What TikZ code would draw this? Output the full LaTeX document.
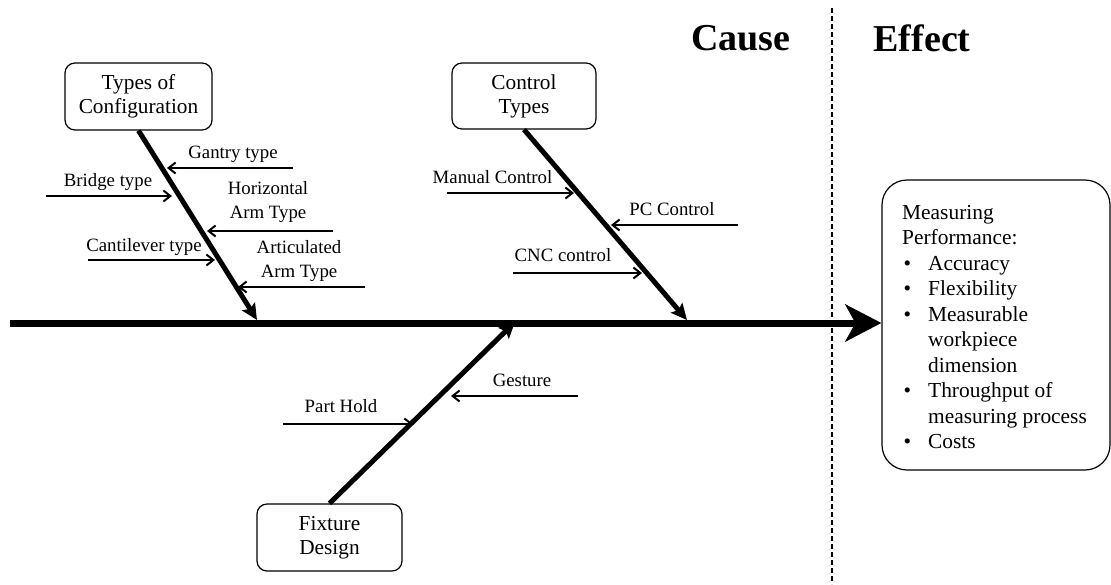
\documentclass[tikz,border=0pt]{standalone}
\usepackage{fontspec}
\setmainfont{Liberation Serif}
\usetikzlibrary{arrows.meta}
\newcommand\bitem{\makebox[26pt][l]{\hspace{1.5pt}\textbullet}}
\begin{document}
\begin{tikzpicture}[x=1pt,y=-1pt,
  every node/.style={font=\fontsize{18.8}{24}\selectfont},
  lbl/.style={inner sep=0pt, align=center},
  causebox/.style={draw, line width=1.2pt, rounded corners=10pt, align=center, inner sep=0pt,
    font=\fontsize{21.3}{24}\selectfont},
  bone/.style={line width=5pt, -{Stealth[length=16pt,width=15pt,inset=3pt]}},
  twig/.style={line width=2pt, -{Straight Barb[length=7pt,width=11pt]}},
  spine/.style={line width=7pt, -{Stealth[length=36pt,width=37pt,inset=10pt]}},
  divider/.style={line width=2.5pt, dash pattern=on 5pt off 3pt},
  title/.style={font=\fontsize{38}{40}\selectfont\bfseries, inner sep=0pt}
]
\useasboundingbox (0,0) rectangle (1111,584);

% headings and divider
\node[title] (cause) at (741,38) {Cause};
\node[title] (effect) at (922,38) {Effect};
\coordinate (dtop) at (832,8);
\coordinate (dbot) at (832,584);
\draw[divider] (dtop) -- (dbot);

% effect box
\node[draw, line width=1.2pt, rounded corners=25pt, minimum width=228pt, minimum height=290pt] (eff) at (996,325) {};
\node[anchor=west, align=left, inner sep=0pt, font=\fontsize{21.4}{25.5}\selectfont] (efftext) at (902,327)
  {Measuring\\Performance:\\\bitem Accuracy\\\bitem Flexibility\\\bitem Measurable\\\hspace*{26pt}workpiece\\\hspace*{26pt}dimension\\\bitem Throughput of\\\hspace*{26pt}measuring process\\\bitem Costs};

% spine
\coordinate (tail) at (10,323);
\draw[spine] (tail) -- (tail -| eff.west);

% cause boxes
\node[causebox, minimum width=147pt, minimum height=67pt] (cfg) at (138.5,96.5) {Types of\\Configuration};
\node[causebox, minimum width=144pt, minimum height=66pt] (ctl) at (524,96) {Control\\Types};
\node[causebox, minimum width=145pt, minimum height=67pt] (fix) at (329.5,537.5) {Fixture\\Design};

% bones
\coordinate (cfgEnd) at (257,320);
\coordinate (ctlEnd) at (687,320);
\coordinate (fixEnd) at (515,322);
\draw[bone] (cfg.south) -- (cfgEnd);
\draw[bone] (ctl.south) -- (ctlEnd);
\draw[bone] (fix.north) -- (fixEnd);

% configuration twigs
\coordinate (g1) at (293,168); \coordinate (g2) at (167,168);
\draw[twig] (g1) -- (g2);
\node[lbl] (gl) at (233,154) {Gantry type};
\coordinate (b1) at (46,196); \coordinate (b2) at (172,196);
\draw[twig] (b1) -- (b2);
\node[lbl] (bl) at (108,182) {Bridge type};
\coordinate (h1) at (333,231); \coordinate (h2) at (207,231);
\draw[twig] (h1) -- (h2);
\node[lbl] (hl) at (268,202) {Horizontal\\Arm Type};
\coordinate (c1) at (88,260); \coordinate (c2) at (215,260);
\draw[twig] (c1) -- (c2);
\node[lbl] (cl) at (144,247) {Cantilever type};
\coordinate (a1) at (365,287); \coordinate (a2) at (238,287);
\draw[twig] (a1) -- (a2);
\node[lbl] (al) at (299,261) {Articulated\\Arm Type};

% control twigs
\coordinate (m1) at (447,193); \coordinate (m2) at (574,193);
\draw[twig] (m1) -- (m2);
\node[lbl] (ml) at (492.5,177) {Manual Control};
\coordinate (p1) at (738,225); \coordinate (p2) at (611,225);
\draw[twig] (p1) -- (p2);
\node[lbl] (pl) at (672,209) {PC Control};
\coordinate (n1) at (513,273); \coordinate (n2) at (642,273);
\draw[twig] (n1) -- (n2);
\node[lbl] (nl) at (563,255) {CNC control};

% fixture twigs
\coordinate (s1) at (578,396); \coordinate (s2) at (451,396);
\draw[twig] (s1) -- (s2);
\node[lbl] (sl) at (522,380) {Gesture};
\coordinate (o1) at (283,424); \coordinate (o2) at (413,424);
\draw[twig] (o1) -- (o2);
\node[lbl] (ol) at (341,406) {Part Hold};
\end{tikzpicture}
\end{document}
